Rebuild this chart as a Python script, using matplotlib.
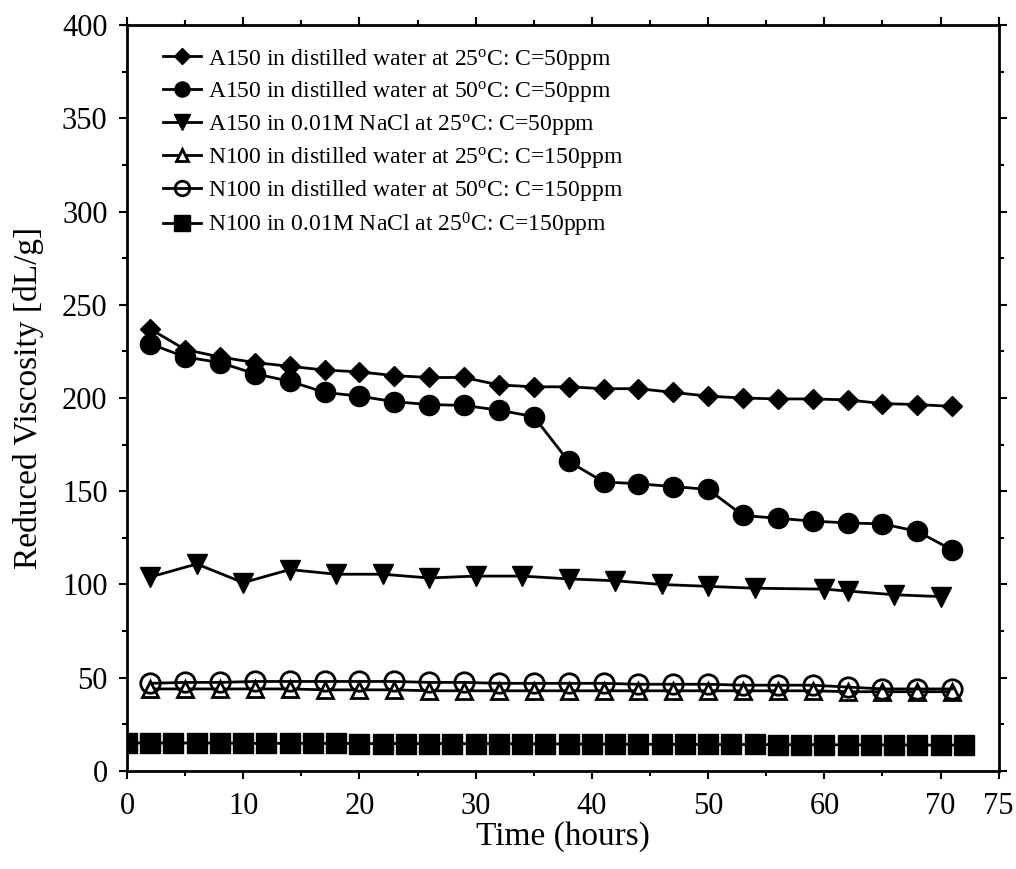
import matplotlib
matplotlib.use("Agg")
import matplotlib.pyplot as plt
from matplotlib.ticker import MultipleLocator, FixedLocator

# fonts: Times-like
plt.rcParams['font.family'] = ['Liberation Serif', 'DejaVu Serif']
plt.rcParams['mathtext.fontset'] = 'custom'
plt.rcParams['mathtext.rm'] = 'Liberation Serif'
plt.rcParams['mathtext.it'] = 'Liberation Serif:italic'

# data
t_a = [2, 5, 8, 11, 14, 17, 20, 23, 26, 29, 32, 35, 38, 41, 44, 47, 50, 53, 56, 59, 62, 65, 68, 71]
a150_dw25 = [237, 226, 222, 219, 217, 215, 214, 212, 211, 211, 207, 206, 206, 205, 205, 203,
             201, 200, 199.5, 199.5, 199, 197, 196.5, 195.5]
a150_dw50 = [229, 222, 219, 213, 209, 203, 201, 198, 196.5, 196, 193.5, 190, 166, 155, 154, 152.5,
             151, 137, 135.5, 134, 133, 132.5, 128.5, 118.5]

t_nacl = [2, 6, 10, 14, 18, 22, 26, 30, 34, 38, 42, 46, 50, 54, 60, 62, 66, 70]
a150_nacl = [104, 111, 101, 108, 105.5, 105.5, 103.5, 104.5, 104.5, 103, 102, 100, 99, 98, 97.5,
             96.5, 94.5, 93.5]

n100_dw25 = [44, 44, 44, 44, 44, 43.5, 43.5, 43.5, 43, 43, 43, 43, 43, 43, 43, 43, 43, 43, 43, 43,
             42.5, 42.5, 42.5, 42.5]
n100_dw50 = [47, 47.5, 47.5, 48, 48, 48, 48, 48, 47.5, 47.5, 47, 47, 47, 47, 46.5, 46.5, 46.5, 46,
             46, 46, 45, 44, 44, 44]

t_sq = list(range(0, 73, 2))
n100_nacl = [15, 15, 15, 15, 15, 14.8, 14.8, 14.8, 14.8, 14.8, 14.7, 14.7, 14.7, 14.7, 14.7, 14.6,
             14.6, 14.5, 14.5, 14.5, 14.4, 14.4, 14.3, 14.3, 14.3, 14.2, 14.2, 14.2, 14.1, 14.1,
             14.1, 14.0, 14.0, 14.0, 13.9, 13.9, 13.9]

labels = [r"A150 in distilled water at 25$^{\mathrm{o}}$C: C=50ppm",
          r"A150 in distilled water at 50$^{\mathrm{o}}$C: C=50ppm",
          r"A150 in 0.01M NaCl at 25$^{\mathrm{o}}$C: C=50ppm",
          r"N100 in distilled water at 25$^{\mathrm{o}}$C: C=150ppm",
          r"N100 in distilled water at 50$^{\mathrm{o}}$C: C=150ppm",
          r"N100 in 0.01M NaCl at 25$^{0}$C: C=150ppm"]

fig = plt.figure(figsize=(10.16, 8.69), dpi=100)
ax = fig.add_axes([0.125, 0.1128, 0.858, 0.8584])

lw = 2.0
ax.plot(t_a, a150_dw25, color='black', lw=lw, marker='D', ms=10.5, label=labels[0])
ax.plot(t_a, a150_dw50, color='black', lw=lw, marker='o', ms=14.5, label=labels[1])
ax.plot(t_nacl, a150_nacl, color='black', lw=lw, marker='v', ms=14.5, label=labels[2])
ax.plot(t_a, n100_dw25, color='black', lw=lw, marker='^', ms=11, mfc='white', mew=2, label=labels[3])
ax.plot(t_a, n100_dw50, color='black', lw=lw, marker='o', ms=14, mfc='none', mew=2, label=labels[4])
ax.plot(t_sq, n100_nacl, color='black', lw=lw, marker='s', ms=15, label=labels[5])

ax.set_xlim(0, 75)
ax.set_ylim(0, 400)
ax.xaxis.set_major_locator(FixedLocator([0, 10, 20, 30, 40, 50, 60, 70, 75]))
ax.xaxis.set_minor_locator(FixedLocator([5, 15, 25, 35, 45, 55, 65]))
ax.yaxis.set_major_locator(MultipleLocator(50))
ax.yaxis.set_minor_locator(MultipleLocator(25))

ax.tick_params(which='both', direction='out', top=True, right=True, width=1.5, labelsize=22, pad=8)
ax.tick_params(axis='x', which='both', pad=9)
ax.tick_params(which='major', length=6)
ax.tick_params(which='minor', length=3.5)
for s in ax.spines.values():
    s.set_linewidth(2)

ax.set_xlabel("Time (hours)", fontsize=24, labelpad=0)
ax.set_ylabel("Reduced Viscosity [dL/g]", fontsize=24, labelpad=13)

ax.legend(loc='upper left', bbox_to_anchor=(0.025, 0.99), frameon=False, fontsize=17,
          handlelength=1.6, handletextpad=0.3, labelspacing=0.33, borderaxespad=0.2,
          markerscale=0.75)

fig.savefig("out.png", dpi=100)
